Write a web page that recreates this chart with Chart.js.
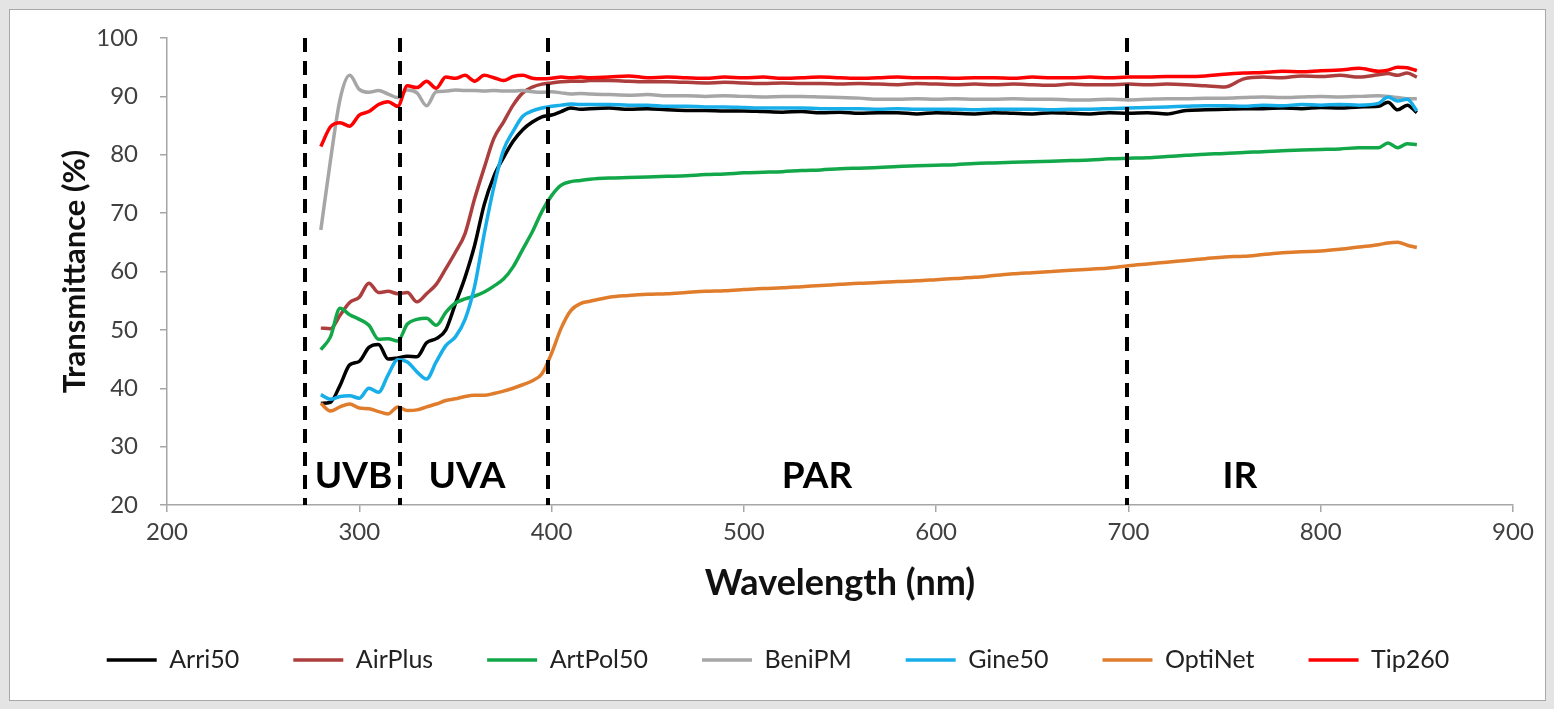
<!DOCTYPE html>
<html>
<head>
<meta charset="utf-8">
<title>Transmittance</title>
<script src="https://cdn.jsdelivr.net/npm/chart.js@4.4.1/dist/chart.umd.min.js"></script>
<style>
    html, body { margin: 0; padding: 0; background: #e4e4e4; overflow: hidden; }
    #frame { position: absolute; left: 9px; top: 9px; width: 1535px; height: 690px; background: #fff; border: 1px solid #a8a8a8; }
    #wrap { position: absolute; left: 0; top: 0; width: 1554px; height: 709px; }
</style>
</head>
<body>
<div id="frame"></div>
<div id="wrap"><canvas id="chart"></canvas></div>
<script>
// Espectros de transmitância das malhas

const wavelengths = [
    280, 285, 290, 295, 300, 305, 310, 315, 320, 325, 330, 335, 340, 345, 350, 355, 360, 365, 370, 375, 380, 385, 390, 395, 400, 405, 410, 415, 420,
    430, 440, 450, 460, 470, 480, 490, 500, 510, 520, 530, 540, 550, 560, 570, 580, 590, 600, 610, 620, 630, 640, 650, 660, 670, 680, 690, 700, 710, 720, 730, 740, 750, 760, 770, 780, 790, 800, 810, 820, 830, 835, 840, 845, 850
];

const arri50 = [
    37.4, 37.6, 40.5, 44.0, 44.6, 47.0, 47.5, 45.0, 45.2, 45.5, 45.4, 47.8, 48.5, 50.0, 54.5, 59.0, 64.5, 71.5, 76.3, 79.5, 82.3, 84.3, 85.6, 86.5, 86.8, 87.4, 88.0, 87.8, 87.9,
    88.0, 87.8, 87.9, 87.7, 87.6, 87.6, 87.5, 87.5, 87.4, 87.3, 87.4, 87.2, 87.3, 87.1, 87.2, 87.2, 87.0, 87.2, 87.1, 87.0, 87.2, 87.1, 87.0, 87.2, 87.1, 87.0, 87.2, 87.1, 87.2, 87.0, 87.6, 87.7, 87.8, 87.9, 87.9, 88.0, 87.9, 88.1, 88.0, 88.2, 88.3, 89.0, 87.7, 88.5, 87.2
];
const airPlus = [
    50.3, 50.2, 52.5, 54.7, 55.6, 58.0, 56.4, 56.6, 56.2, 56.4, 54.8, 56.2, 57.8, 60.5, 63.3, 66.5, 72.5, 77.8, 82.8, 85.6, 88.5, 90.6, 91.6, 92.1, 92.3, 92.5, 92.6, 92.6, 92.7,
    92.7, 92.6, 92.5, 92.5, 92.4, 92.3, 92.4, 92.3, 92.2, 92.3, 92.2, 92.2, 92.1, 92.2, 92.1, 92.0, 92.2, 92.1, 92.0, 92.1, 92.0, 92.1, 92.0, 91.9, 92.1, 92.0, 92.0, 92.1, 92.0, 92.1, 92.0, 91.8, 91.6, 93.0, 93.3, 93.2, 93.5, 93.4, 93.6, 93.3, 93.7, 93.9, 93.6, 94.0, 93.3
];
const artPol50 = [
    46.6, 48.8, 53.7, 52.6, 51.8, 50.8, 48.4, 48.5, 48.1, 51.0, 51.8, 52.0, 50.8, 53.0, 54.6, 55.3, 55.8, 56.5, 57.5, 58.7, 60.8, 63.8, 66.8, 70.3, 73.0, 74.8, 75.4, 75.6, 75.8,
    76.0, 76.1, 76.2, 76.3, 76.4, 76.6, 76.7, 76.9, 77.0, 77.1, 77.3, 77.4, 77.6, 77.7, 77.8, 78.0, 78.1, 78.2, 78.3, 78.5, 78.6, 78.7, 78.8, 78.9, 79.0, 79.1, 79.3, 79.4, 79.5, 79.7, 79.9, 80.1, 80.2, 80.4, 80.5, 80.7, 80.8, 80.9, 81.0, 81.2, 81.2, 82.0, 81.2, 81.9, 81.7
];
const beniPM = [
    67.1, 79.0, 89.5, 93.6, 91.2, 90.7, 91.0, 90.4, 89.8, 91.1, 90.6, 88.4, 90.8, 90.9, 91.1, 91.0, 91.0, 90.9, 91.0, 90.9, 90.9, 91.0, 90.8, 90.7, 90.8, 90.6, 90.4, 90.5, 90.4,
    90.3, 90.2, 90.3, 90.1, 90.1, 90.0, 90.1, 90.0, 89.9, 90.0, 90.0, 89.9, 89.8, 89.7, 89.5, 89.5, 89.6, 89.5, 89.6, 89.5, 89.5, 89.6, 89.5, 89.5, 89.4, 89.4, 89.5, 89.4, 89.5, 89.6, 89.6, 89.7, 89.7, 89.8, 89.9, 89.8, 89.9, 90.0, 89.9, 90.0, 90.1, 90.0, 89.8, 89.6, 89.6
];
const gine50 = [
    38.9, 38.1, 38.6, 38.7, 38.3, 40.0, 39.3, 42.3, 44.9, 44.5, 42.8, 41.6, 44.5, 47.3, 48.8, 51.8, 57.5, 66.5, 74.5, 80.8, 84.0, 86.6, 87.5, 88.0, 88.3, 88.5, 88.7, 88.6, 88.6,
    88.6, 88.5, 88.5, 88.3, 88.3, 88.2, 88.2, 88.1, 88.0, 88.0, 88.0, 87.9, 87.9, 87.9, 87.8, 87.9, 87.8, 87.8, 87.8, 87.7, 87.8, 87.8, 87.8, 87.7, 87.8, 87.8, 87.9, 88.0, 88.1, 88.2, 88.3, 88.4, 88.4, 88.3, 88.5, 88.4, 88.6, 88.5, 88.6, 88.5, 88.8, 89.9, 89.2, 89.5, 87.5
];
const optiNet = [
    37.4, 36.1, 36.8, 37.3, 36.6, 36.5, 36.0, 35.6, 36.8, 36.2, 36.3, 36.8, 37.3, 37.9, 38.2, 38.6, 38.8, 38.8, 39.1, 39.5, 40.0, 40.6, 41.3, 42.5, 46.0, 50.3, 53.3, 54.5, 54.9,
    55.6, 55.9, 56.1, 56.2, 56.4, 56.6, 56.7, 56.9, 57.1, 57.2, 57.4, 57.6, 57.8, 58.0, 58.1, 58.3, 58.4, 58.6, 58.8, 59.0, 59.3, 59.6, 59.8, 60.0, 60.2, 60.4, 60.6, 61.0, 61.3, 61.6, 61.9, 62.2, 62.5, 62.6, 62.9, 63.2, 63.4, 63.5, 63.8, 64.2, 64.6, 64.9, 65.0, 64.5, 64.1
];
const tip260 = [
    81.4, 84.8, 85.5, 84.9, 86.8, 87.4, 88.6, 89.1, 88.3, 91.8, 91.5, 92.6, 91.4, 93.3, 93.1, 93.6, 92.6, 93.6, 93.2, 92.7, 93.4, 93.6, 93.1, 93.0, 93.1, 93.3, 93.2, 93.3, 93.2,
    93.3, 93.5, 93.2, 93.3, 93.2, 93.1, 93.3, 93.2, 93.3, 93.1, 93.2, 93.3, 93.2, 93.1, 93.2, 93.3, 93.2, 93.2, 93.1, 93.2, 93.2, 93.1, 93.3, 93.2, 93.2, 93.3, 93.2, 93.3, 93.3, 93.4, 93.4, 93.5, 93.8, 94.0, 94.1, 94.3, 94.2, 94.4, 94.5, 94.8, 94.3, 94.5, 95.0, 94.9, 94.4
];

const seriesNames = ['Arri50', 'AirPlus', 'ArtPol50', 'BeniPM', 'Gine50', 'OptiNet', 'Tip260'];
const seriesValues = [arri50, airPlus, artPol50, beniPM, gine50, optiNet, tip260];
const seriesColors = ['#000000', '#ad3e3e', '#12a84a', '#a6a6a6', '#17aeea', '#e07d2c', '#ff0000'];

// limites das faixas espectrais (nm) e rótulos
const bandEdges = [272, 321, 398, 699];
const bandNames = ['UVB', 'UVA', 'PAR', 'IR'];
const bandCenters = [297, 356, 538, 758];
const bandLabelLevel = 25;

const FONT = 'Lato, "Open Sans", sans-serif';

const bandsPlugin = {
    id: 'bands',
    afterDatasetsDraw(chart) {
        const { ctx, chartArea, scales: { x, y } } = chart;
        ctx.save();
        ctx.strokeStyle = '#000';
        ctx.lineWidth = 4;
        ctx.setLineDash([14, 9]);
        bandEdges.forEach(w => {
            const px = Math.round(x.getPixelForValue(w));
            ctx.beginPath();
            ctx.moveTo(px, chartArea.top);
            ctx.lineTo(px, chartArea.bottom);
            ctx.stroke();
        });
        ctx.setLineDash([]);
        ctx.fillStyle = '#000';
        ctx.font = 'bold 37px ' + FONT;
        ctx.textAlign = 'center';
        ctx.textBaseline = 'middle';
        bandNames.forEach((name, i) => {
            ctx.fillText(name, x.getPixelForValue(bandCenters[i]), y.getPixelForValue(bandLabelLevel));
        });
        ctx.restore();
    }
};

const datasets = seriesNames.map((name, i) => ({
    label: name,
    data: wavelengths.map((w, j) => ({ x: w, y: seriesValues[i][j] })),
    borderColor: seriesColors[i],
    backgroundColor: seriesColors[i],
    borderWidth: 3.5,
    pointRadius: 0,
    pointStyle: 'line',
    cubicInterpolationMode: 'monotone',
    fill: false,
    order: seriesNames.length - i
}));

const axisColor = '#a6a6a6';

new Chart(document.getElementById('chart').getContext('2d'), {
    type: 'line',
    data: { datasets: datasets },
    options: {
        responsive: true,
        maintainAspectRatio: false,
        animation: false,
        events: [],
        layout: { padding: { left: 43, right: 41, top: 38, bottom: 26.5 } },
        scales: {
            x: {
                type: 'linear',
                min: 200, max: 900,
                afterFit: (s) => { s.height = 88.5; },
                ticks: { stepSize: 100, padding: 6, color: '#404040', font: { family: FONT, size: 24 } },
                grid: { drawOnChartArea: false, tickLength: 7, color: axisColor, lineWidth: 1.5 },
                border: { color: axisColor, width: 1.5 },
                title: {
                    display: true, text: 'Wavelength (nm)', color: '#111',
                    font: { family: FONT, size: 36, weight: 'bold', lineHeight: 1 },
                    padding: { top: 0, bottom: -7.5 }
                }
            },
            y: {
                min: 20, max: 100,
                afterFit: (s) => { s.width = 124; },
                ticks: { stepSize: 10, padding: 22, color: '#404040', font: { family: FONT, size: 24 } },
                grid: { drawOnChartArea: false, tickLength: 7, color: axisColor, lineWidth: 1.5 },
                border: { color: axisColor, width: 1.5 },
                title: {
                    display: true, text: 'Transmittance (%)', color: '#111',
                    font: { family: FONT, size: 31, weight: 'bold', lineHeight: 1 },
                    padding: { top: 16.5, bottom: 0 }
                }
            }
        },
        plugins: {
            legend: {
                position: 'bottom',
                labels: {
                    usePointStyle: true,
                    pointStyleWidth: 50,
                    padding: 54,
                    color: '#222',
                    font: { family: FONT, size: 25 },
                    sort: (a, b) => a.datasetIndex - b.datasetIndex
                }
            },
            tooltip: { enabled: false }
        }
    },
    plugins: [bandsPlugin]
});
</script>
</body>
</html>
